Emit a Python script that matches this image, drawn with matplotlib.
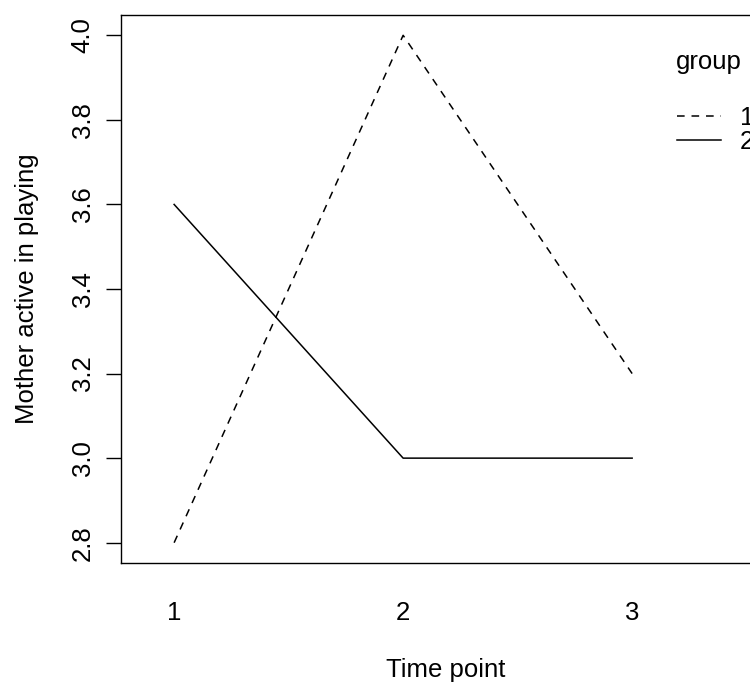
import matplotlib.pyplot as plt

# interaction plot: mean of "Mother active in playing" by time point and group
time_points = [1, 2, 3]
time_labels = ["1", "2", "3"]
group1 = [2.8, 4.0, 3.2]
group2 = [3.6, 3.0, 3.0]
yticks = [2.8, 3.0, 3.2, 3.4, 3.6, 3.8, 4.0]

plt.rcParams['font.family'] = ['Liberation Sans', 'DejaVu Sans']
plt.rcParams['font.size'] = 18.5

W, H = 750, 683
fig = plt.figure(figsize=(W / 100, H / 100), dpi=100)

# plot box: left 121px, top 15px, bottom 563px, right runs past the edge
x0, x1 = 0.768, 3.6
px_per_unit = 229.0
left, top, bottom = 121, 15, 563
right = left + (x1 - x0) * px_per_unit
ax = fig.add_axes([left / W, 1 - bottom / H, (right - left) / W, (bottom - top) / H])

l1, = ax.plot(time_points, group1, color='black', lw=1.1, linestyle=(0, (5, 4.5)))
l2, = ax.plot(time_points, group2, color='black', lw=1.1)

ax.set_xlim(x0, x1)
ax.set_ylim(2.752, 4.048)
ax.set_xticks(time_points)
ax.set_xticklabels(time_labels)
ax.set_yticks(yticks)
ax.set_yticklabels([f"{v:.1f}" for v in yticks], rotation=90, va='center')
ax.tick_params(axis='x', length=0, pad=27)
ax.tick_params(axis='y', length=11, width=1, pad=8)

for s in ax.spines.values():
    s.set_linewidth(1)

ax.set_xlabel("Time point", labelpad=24)
ax.set_ylabel("Mother active in playing", labelpad=23)

fig.text(676 / W, 1 - 62 / H, "group", ha='left', va='center')
fig.legend([l1, l2], ["1", "2"], loc='upper left',
           bbox_to_anchor=(677 / W, 1 - 106 / H), bbox_transform=fig.transFigure,
           frameon=False, borderpad=0, borderaxespad=0, labelspacing=0.0,
           handlelength=1.7, handletextpad=0.75)

fig.savefig("out.png", dpi=100)
